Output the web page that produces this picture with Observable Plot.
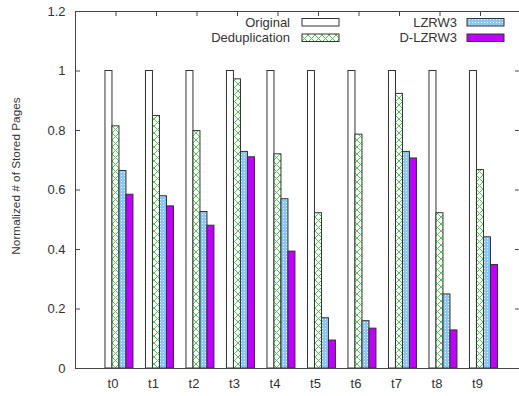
<!DOCTYPE html>
<html><head><meta charset="utf-8">
<script src="https://cdn.jsdelivr.net/npm/d3@7"></script>
<script src="https://cdn.jsdelivr.net/npm/@observablehq/plot@0.6"></script>
<style>body{margin:0;overflow:hidden;background:#fff}</style>
</head><body><div id="chart"></div>
<script>
const categories = ["t0","t1","t2","t3","t4","t5","t6","t7","t8","t9"];
const seriesNames = ["Original","Deduplication","LZRW3","D-LZRW3"];
const original = [1,1,1,1,1,1,1,1,1,1];
const dedup   = [0.814,0.849,0.798,0.972,0.720,0.522,0.786,0.923,0.522,0.667];
const lzrw3   = [0.664,0.579,0.526,0.728,0.569,0.169,0.159,0.728,0.249,0.441];
const dlzrw3  = [0.584,0.545,0.480,0.710,0.393,0.094,0.134,0.706,0.128,0.348];
const yTicks  = [0,0.2,0.4,0.6,0.8,1,1.2];
const yTickLabels = ["0","0.2","0.4","0.6","0.8","1","1.2"];
const yLabel = "Normalized # of Stored Pages";

const fills = ["#ffffff","url(#xhatch)","url(#dots)","#c000ff"];
const seriesValues = [original, dedup, lzrw3, dlzrw3];
const barW = 0.1728, barOff = -0.26;
const rows = [];
seriesValues.forEach((vals, k) => vals.forEach((v, i) => rows.push({
  series: seriesNames[k], i, k, value: v
})));

const chart = Plot.plot({
  width: 519, height: 396,
  marginLeft: 75, marginRight: 0, marginTop: 11, marginBottom: 28,
  style: {fontFamily: "'Liberation Sans', Arial, sans-serif", fontSize: "13px", color: "#333", background: "#fff"},
  x: {domain: [-1, 10], range: [75, 520.5]},
  y: {domain: [0, 1.2]},
  color: {domain: seriesNames, range: fills},
  marks: [
    Plot.rect(rows, {
      x1: d => d.i + barOff + d.k * barW,
      x2: d => d.i + barOff + (d.k + 1) * barW,
      y1: 0, y2: "value",
      fill: "series", stroke: "#333", strokeWidth: 1
    }),
    Plot.ruleY([0], {stroke: "#444"}),
    Plot.ruleY([1.2], {stroke: "#444"}),
    Plot.ruleX([-1], {stroke: "#444"}),
    Plot.axisY({anchor: "left", ticks: yTicks, tickSize: -5, tickPadding: 15,
      tickFormat: d => yTickLabels[yTicks.indexOf(d)], stroke: "#444", label: null}),
    Plot.axisY({anchor: "right", ticks: yTicks, tickSize: -5, tickFormat: () => "", stroke: "#444", label: null}),
    Plot.axisX({anchor: "top", ticks: d3.range(10), tickSize: -4, tickFormat: () => "", stroke: "#444", label: null}),
    Plot.axisX({anchor: "bottom", ticks: d3.range(10), tickSize: 0, tickPadding: 10, dx: -3,
      tickFormat: d => categories[d], label: null})
  ]
});

const svg = d3.select(chart);
const defs = svg.insert("defs", ":first-child");
const ph = defs.append("pattern").attr("id", "xhatch").attr("patternUnits", "userSpaceOnUse")
  .attr("width", 7).attr("height", 7);
ph.append("rect").attr("width", 7).attr("height", 7).attr("fill", "#fff");
ph.append("path").attr("d", "M0,0L7,7M7,0L0,7").attr("stroke", "#4ccf4c").attr("stroke-width", 1).attr("fill", "none");
const pd = defs.append("pattern").attr("id", "dots").attr("patternUnits", "userSpaceOnUse")
  .attr("width", 3).attr("height", 3);
pd.append("rect").attr("width", 3).attr("height", 3).attr("fill", "#8cc6f4");
pd.append("rect").attr("x", 1).attr("y", 1).attr("width", 1).attr("height", 1).attr("fill", "#e8f4ff");

// y-axis title
svg.append("text").attr("transform", "translate(16,176) rotate(-90)")
  .attr("text-anchor", "middle").attr("dy", "0.35em").attr("font-size", 11.8)
  .attr("fill", "#333").text(yLabel);

// legend inside the frame
const leg = svg.append("g").attr("font-size", 13).attr("fill", "#333");
const legCols = [{textEnd: 290, sw: 302}, {textEnd: 457, sw: 467}];
const legRows = [22, 37.5];
seriesNames.forEach((name, k) => {
  const c = legCols[Math.floor(k / 2)], ry = legRows[k % 2];
  leg.append("text").attr("x", c.textEnd).attr("y", ry).attr("dy", "0.35em")
    .attr("text-anchor", "end").text(name);
  leg.append("rect").attr("x", c.sw).attr("y", ry - 3.5).attr("width", 37).attr("height", 7.5)
    .attr("fill", fills[k]).attr("stroke", "#333");
});

document.getElementById("chart").append(chart);
</script>
</body></html>
